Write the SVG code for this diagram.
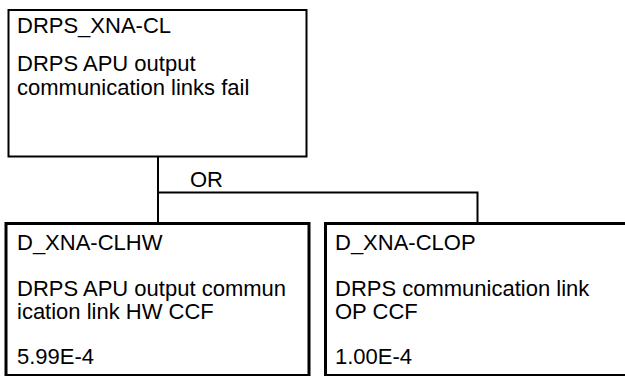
<svg xmlns="http://www.w3.org/2000/svg" width="625" height="376" viewBox="0 0 625 376">
  <style>
    .box { fill: #ffffff; stroke: #000000; }
    .top { stroke-width: 2; }
    .leaf { stroke-width: 3; }
    .wire { fill: none; stroke: #000000; stroke-width: 2; }
    text { font-family: "Liberation Sans", Arial, sans-serif; font-size: 22px; fill: #000000; }
  </style>
  <rect x="0" y="0" width="625" height="376" fill="#ffffff"/>

  <!-- gate wiring -->
  <g id="connectors">
    <path class="wire" d="M158 157 V223 M158 192.5 H477.5 V223"/>
    <text x="190" y="187">OR</text>
  </g>

  <!-- top event -->
  <g id="DRPS_XNA-CL">
    <rect class="box top" x="8.5" y="10" width="298" height="146.5"/>
    <text x="17" y="33">DRPS_XNA-CL</text>
    <text x="17" y="71">DRPS APU output</text>
    <text x="17" y="95">communication links fail</text>
  </g>

  <!-- basic events -->
  <g id="D_XNA-CLHW">
    <rect class="box leaf" x="6" y="223.5" width="303" height="152"/>
    <text x="17" y="250">D_XNA-CLHW</text>
    <text x="17" y="296">DRPS APU output commun</text>
    <text x="17" y="319">ication link HW CCF</text>
    <text x="17" y="364">5.99E-4</text>
  </g>

  <g id="D_XNA-CLOP">
    <rect class="box leaf" x="325.5" y="223.5" width="310" height="152"/>
    <text x="335" y="250">D_XNA-CLOP</text>
    <text x="335" y="296">DRPS communication link</text>
    <text x="335" y="319">OP CCF</text>
    <text x="335" y="364">1.00E-4</text>
  </g>
</svg>
